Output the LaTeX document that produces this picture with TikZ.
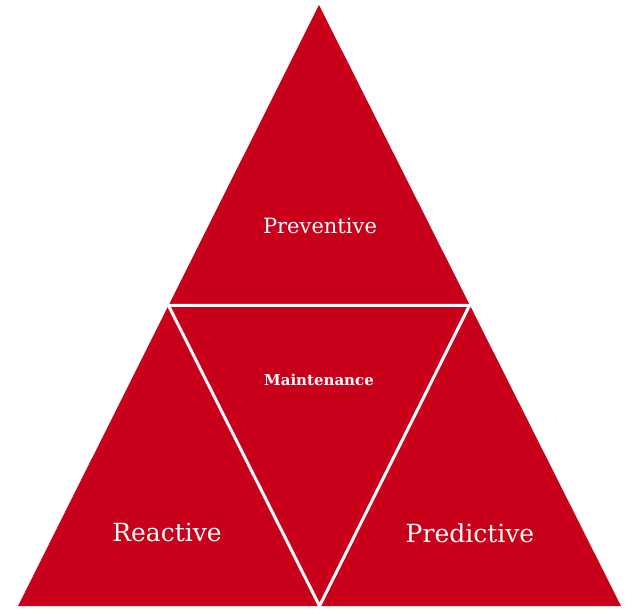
\documentclass[tikz,border=0pt]{standalone}
\usepackage{fontspec}
\setmainfont{DejaVu Serif}
\definecolor{pyrred}{RGB}{200,0,26}
\begin{document}
\begin{tikzpicture}[x=1pt,y=1pt,
  lbl/.style={text=white,inner sep=0pt,anchor=base},
  divider/.style={draw=white,line width=3pt,line join=miter}]
\useasboundingbox (0,0) rectangle (642,613);
\coordinate (A) at (319,608);
\coordinate (BL) at (18,7);
\coordinate (BR) at (621,7);
\coordinate (L) at (168.5,307.5);
\coordinate (R) at (469.5,307.5);
\coordinate (M) at (319.5,7);
\fill[pyrred] (A) -- (BL) -- (BR) -- cycle;
\draw[divider] (L) -- (R) -- (M) -- cycle;
\node[lbl,font=\fontsize{21}{24}\selectfont] (prev) at (320,379) {Preventive};
\node[lbl,font=\fontsize{15}{17}\selectfont\bfseries] (main) at (319,227) {Maintenance};
\node[lbl,font=\fontsize{25}{28}\selectfont] (reac) at (167,72) {Reactive};
\node[lbl,font=\fontsize{25}{28}\selectfont] (pred) at (470,71) {Predictive};
\end{tikzpicture}
\end{document}
